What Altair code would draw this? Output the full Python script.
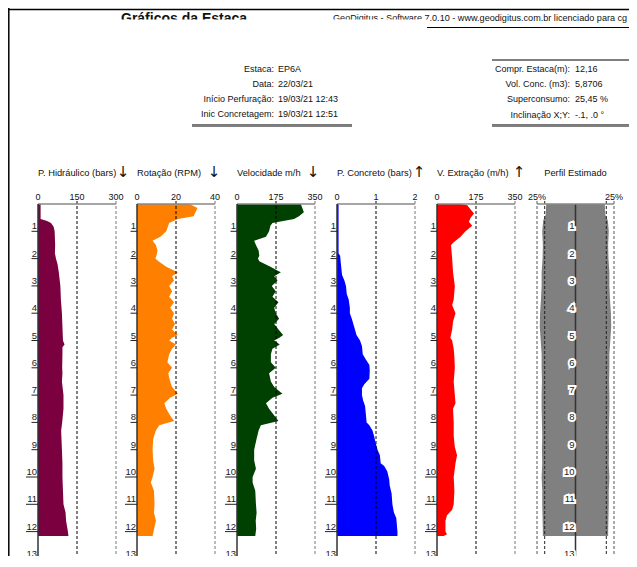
import altair as alt
import pandas as pd

FONT = "Liberation Sans"

# ---------------- data ----------------
depth_ticks = list(range(1, 14))

hid_d = [0, 0.55, 0.62, 0.7, 0.83, 1.0, 1.5, 1.8, 2.0, 2.2, 2.5, 3.0, 3.5, 4.0, 4.5, 5.0, 5.15, 5.25,
         5.5, 6.0, 6.2, 6.5, 7.0, 7.5, 8.0, 8.3, 9.0, 9.5, 10.0, 10.5, 11.0, 11.3, 11.6, 12.0, 12.16]
hid_v = [10, 10, 35, 50, 60, 64, 66, 65, 69, 75, 80, 86, 88, 92, 94, 96, 102, 94,
         94, 93, 94, 92, 98, 98, 93, 89, 92, 94, 94, 96, 98, 106, 108, 115, 117]

rv_d = [0, 0.15, 0.3, 0.45, 0.55, 0.7, 0.8, 1.0, 1.2, 1.35, 1.5, 1.7, 1.9, 2.0, 2.1, 2.3, 2.45, 2.5,
        2.65, 2.8, 3.0, 3.2, 3.4, 3.6, 3.8, 4.0, 4.2, 4.4, 4.6, 4.8, 4.9, 5.0, 5.15, 5.3, 5.5, 5.8,
        6.0, 6.2, 6.5, 6.7, 6.95, 7.1, 7.3, 7.5, 7.75, 7.95, 8.1, 8.3, 8.6, 9.0, 9.4, 9.7, 10.0,
        10.2, 10.5, 11.0, 11.3, 11.6, 11.9, 12.16]
rot_v = [27, 31, 30, 29, 21, 16.5, 16, 15, 12, 8, 9.7, 10.5, 10, 9.4, 11, 15, 19.5, 21,
         18, 19, 16.5, 18, 16.5, 19, 17, 19, 18, 19.5, 18, 21, 18, 16.5, 20, 18, 16.5, 15.6,
         18, 16, 17, 18, 21, 17, 14, 15, 17, 19, 11.4, 9.7, 8.3, 8, 8.3, 9, 8,
         7.1, 8.7, 9, 8.7, 9.7, 8.8, 8]
vel_v = [286, 293, 300, 278, 256, 159, 150, 144, 130, 77, 85, 97, 100, 94, 100, 150, 185, 197,
         167, 182, 156, 174, 159, 186, 167, 174, 189, 167, 186, 207, 190, 167, 192, 159, 152, 152,
         174, 144, 152, 167, 204, 159, 130, 144, 167, 186, 107, 97, 88, 77, 77, 85, 70,
         70, 82, 85, 88, 84, 86, 82]

conc_d = [0, 1.8, 1.9, 2.2, 2.6, 2.8, 3.0, 3.3, 3.5, 3.8, 4.0, 4.2, 4.5, 4.8, 5.0, 5.2, 5.5, 5.7,
          5.9, 6.1, 6.4, 6.6, 6.75, 7.0, 7.2, 7.4, 7.7, 8.0, 8.1, 8.3, 8.5, 8.8, 9.0, 9.2, 9.5,
          9.6, 9.8, 10.1, 10.3, 10.6, 11.0, 11.3, 11.5, 12.0, 12.16]
conc_v = [0.04, 0.04, 0.08, 0.1, 0.13, 0.19, 0.23, 0.25, 0.3, 0.33, 0.33, 0.38, 0.44, 0.5, 0.59,
          0.64, 0.66, 0.74, 0.83, 0.84, 0.83, 0.7, 0.64, 0.64, 0.67, 0.72, 0.74, 0.76, 0.83, 0.91,
          0.95, 1.0, 1.04, 1.1, 1.12, 1.21, 1.29, 1.34, 1.35, 1.4, 1.42, 1.46, 1.52, 1.55, 1.55]

ext_d = [0, 0.05, 0.2, 0.35, 0.5, 0.65, 0.8, 1.0, 1.2, 1.4, 1.5, 2.0, 2.5, 3.0, 3.5, 3.7, 4.0,
         4.3, 4.6, 4.9, 5.0, 5.3, 5.6, 6.0, 6.5, 7.0, 7.3, 7.5, 8.0, 8.5, 8.9, 9.2, 9.5, 10.0,
         10.5, 11.0, 11.2, 11.4, 11.6, 12.0, 12.1, 12.16]
ext_v = [106, 136, 151, 166, 151, 143, 158, 128, 106, 75, 63, 68, 72, 80, 75, 68, 83,
         72, 68, 60, 68, 75, 78, 80, 75, 80, 83, 72, 75, 75, 80, 90, 83, 75,
         78, 75, 68, 45, 38, 38, 45, 30]

pf_d = [0, 0.4, 0.6, 1.0, 1.5, 2.0, 2.5, 3.0, 3.5, 4.0, 4.5, 5.0, 5.5, 6.0, 6.5, 7.0, 7.5, 8.0,
        8.5, 9.0, 9.5, 10.0, 10.5, 11.0, 11.5, 12.0, 12.16]
pf_r = [0.95, 0.97, 1.05, 1.08, 1.06, 1.07, 1.1, 1.1, 1.12, 1.15, 1.16, 1.13, 1.1, 1.1, 1.09, 1.1,
        1.1, 1.09, 1.08, 1.09, 1.08, 1.1, 1.08, 1.08, 1.07, 1.06, 1.06]

panel_titles = ["P. Hidráulico (bars)", "Rotação (RPM)", "Velocidade m/h",
                "P. Concreto (bars)", "V. Extração (m/h)"]
panel_arrows = ["↓", "↓", "↓", "↑", "↑"]
panel_max = [300, 40, 350, 2, 350]
panel_mid = [150, 20, 175, 1, 175]
panel_ticklabels = [["0", "150", "300"], ["0", "20", "40"], ["0", "175", "350"],
                    ["0", "1", "2"], ["0", "175", "350"]]
panel_colors = ["#7a0040", "#ff8000", "#004000", "#0000ff", "#ff0000"]
panel_series = [(hid_d, hid_v), (rv_d, rot_v), (rv_d, vel_v), (conc_d, conc_v), (ext_d, ext_v)]

perfil_title = "Perfil Estimado"
perfil_ticks = [-1.25, 1.25]
perfil_ticklabels = ["25%", "25%"]

page_title = "Gráficos da Estaca"
software_line = "GeoDigitus - Software 7.0.10 - www.geodigitus.com.br licenciado para cg"
left_labels = ["Estaca:", "Data:", "Início Perfuração:", "Inic Concretagem:"]
left_values = ["EP6A", "22/03/21", "19/03/21 12:43", "19/03/21 12:51"]
right_labels = ["Compr. Estaca(m):", "Vol. Conc. (m3):", "Superconsumo:", "Inclinação X;Y:"]
right_values = ["12,16", "5,8706", "25,45 %", "-.1, .0 °"]

# ---------------- layout ----------------
W, H = 621, 548
PANEL_LEFT = [30, 129, 229, 329, 429]
PANEL_W = 78
P6_RANGE = [529, 606]
ARROW_X = [115, 206, 305, 411, 511]
Y_TOP = 196
PX_PER_M = 27.3
Y_RANGE = [Y_TOP, Y_TOP + 13 * PX_PER_M]
Y_BOTTOM = 570
ONE = pd.DataFrame({"a": [0]})
ys = alt.Scale(domain=[0, 13], range=Y_RANGE)


def text(s, x, y, size=9, align="left", baseline="middle", weight="normal", color="#111", font=FONT):
    return alt.Chart(pd.DataFrame({"t": [s]})).mark_text(
        align=align, baseline=baseline, fontSize=size, fontWeight=weight, color=color, font=font
    ).encode(x=alt.value(x), y=alt.value(y), text="t:N")


def hline(x1, x2, y, color="#000", w=1.0, dash=None):
    kw = dict(color=color, strokeWidth=w)
    if dash:
        kw["strokeDash"] = dash
    return alt.Chart(ONE).mark_rule(**kw).encode(x=alt.value(x1), x2=alt.value(x2), y=alt.value(y))


def vline(x, y1, y2, color="#000", w=1.0, dash=None):
    kw = dict(color=color, strokeWidth=w)
    if dash:
        kw["strokeDash"] = dash
    return alt.Chart(ONE).mark_rule(**kw).encode(x=alt.value(x), y=alt.value(y1), y2=alt.value(y2))


layers = []

# ---- page frame and header ----
layers += [
    hline(0, W, 1.5, "#000", 1.5),
    vline(0.8, 0, H, "#000", 1.5),
    text(page_title, 113, 4, size=14, baseline="top", weight="bold"),
    text(software_line, 325, 6, size=9.1, baseline="top"),
    alt.Chart(ONE).mark_rect(color="white").encode(
        x=alt.value(100), x2=alt.value(421), y=alt.value(11.5), y2=alt.value(24)),
    hline(419, 624, 19.5, "#000", 1),
    vline(624, 19.5, 529, "#000", 1.3),
    hline(484, 624, 52, "#000", 1),
    hline(484, 624, 116.5, "#777", 1),
    hline(484, 624, 118, "#000", 1),
    hline(184, 344, 116.5, "#777", 1),
    hline(184, 344, 118, "#000", 1),
]
for i, (lab, val) in enumerate(zip(left_labels, left_values)):
    y = 61 + 15 * i
    layers.append(text(lab, 266, y, align="right"))
    layers.append(text(val, 270, y))
for i, (lab, val) in enumerate(zip(right_labels, right_values)):
    y = 61 + 15.2 * i
    layers.append(text(lab, 562, y, align="right"))
    layers.append(text(val, 567, y))

# ---- panels 1-5 ----
depth_df = pd.DataFrame({"d": depth_ticks, "lab": [str(t) for t in depth_ticks]})
for i in range(5):
    L = PANEL_LEFT[i]
    xs = alt.Scale(domain=[0, panel_max[i]], range=[L, L + PANEL_W])
    d, v = panel_series[i]
    df = pd.DataFrame({"d": d, "v": v})
    layers.append(
        alt.Chart(df).mark_area(orient="horizontal", color=panel_colors[i], opacity=1).encode(
            x=alt.X("v:Q", scale=xs, axis=None), y=alt.Y("d:Q", scale=ys, axis=None))
    )
    # grid lines
    layers.append(
        alt.Chart(pd.DataFrame({"t": [panel_mid[i]]})).mark_rule(
            color="#000", strokeWidth=1, strokeDash=[3, 2]).encode(
            x=alt.X("t:Q", scale=xs, axis=None), y=alt.value(Y_TOP - 3), y2=alt.value(Y_BOTTOM))
    )
    layers.append(
        alt.Chart(pd.DataFrame({"t": [panel_max[i]]})).mark_rule(
            color="#777", strokeWidth=1, strokeDash=[3, 2]).encode(
            x=alt.X("t:Q", scale=xs, axis=None), y=alt.value(Y_TOP - 3), y2=alt.value(Y_BOTTOM))
    )
    # top axis
    layers.append(hline(L, L + PANEL_W, Y_TOP, "#888", 1.3))
    tdf = pd.DataFrame({"t": [0, panel_mid[i], panel_max[i]], "lab": panel_ticklabels[i]})
    layers.append(
        alt.Chart(tdf).mark_text(fontSize=9, font=FONT, color="#111", baseline="middle").encode(
            x=alt.X("t:Q", scale=xs, axis=None), y=alt.value(Y_TOP - 7), text="lab:N")
    )
    # depth axis
    layers.append(vline(L, Y_TOP, Y_BOTTOM, "#333", 1.5))
    layers.append(
        alt.Chart(depth_df).transform_calculate(
            x0=f"{L} - 1 - 5.5 * length(datum.lab)").mark_rule(color="#222", strokeWidth=1).encode(
            x=alt.X("x0:Q", scale=None), x2=alt.value(L), y=alt.Y("d:Q", scale=ys, axis=None))
    )
    layers.append(
        alt.Chart(depth_df).mark_text(fontSize=9.5, font=FONT, color="#222", align="right",
                                      baseline="bottom").encode(
            x=alt.value(L - 1), y=alt.Y("d:Q", scale=ys, axis=None), text="lab:N")
    )
    # titles
    layers.append(text(panel_titles[i], L, 165, size=9.3, color="#111"))
    layers.append(text(panel_arrows[i], ARROW_X[i], 164, size=15, align="center", color="#111",
                       font="DejaVu Sans"))

# ---- panel 6: perfil estimado ----
xs6 = alt.Scale(domain=[-1.25, 1.25], range=P6_RANGE)
pdf = pd.DataFrame({"d": pf_d, "r": pf_r})
layers.append(
    alt.Chart(pdf).transform_calculate(neg="-datum.r").mark_area(
        orient="horizontal", color="#808080", opacity=1).encode(
        x=alt.X("neg:Q", scale=xs6, axis=None), x2="r:Q", y=alt.Y("d:Q", scale=ys, axis=None))
)
for t, col in [(-1.25, "#555"), (-1.0, "#222"), (1.0, "#222"), (1.25, "#555")]:
    layers.append(
        alt.Chart(pd.DataFrame({"t": [t]})).mark_rule(color=col, strokeWidth=1, strokeDash=[3, 2]).encode(
            x=alt.X("t:Q", scale=xs6, axis=None), y=alt.value(Y_TOP - 3), y2=alt.value(Y_BOTTOM))
    )
layers.append(
    alt.Chart(pd.DataFrame({"t": [0]})).mark_rule(color="#333", strokeWidth=1.5).encode(
        x=alt.X("t:Q", scale=xs6, axis=None), y=alt.value(Y_TOP), y2=alt.value(Y_BOTTOM))
)
layers.append(hline(P6_RANGE[0], P6_RANGE[1], Y_TOP, "#888", 1.3))
layers.append(
    alt.Chart(pd.DataFrame({"t": perfil_ticks, "lab": perfil_ticklabels})).mark_text(
        fontSize=9, font=FONT, color="#111", baseline="middle").encode(
        x=alt.X("t:Q", scale=xs6, axis=None), y=alt.value(Y_TOP - 7), text="lab:N")
)
center = (P6_RANGE[0] + P6_RANGE[1]) / 2
layers.append(
    alt.Chart(depth_df).mark_text(fontSize=9.5, font=FONT, color="white", stroke="white",
                                  strokeWidth=4, align="right", baseline="bottom").encode(
        x=alt.value(center - 1), y=alt.Y("d:Q", scale=ys, axis=None), text="lab:N")
)
layers.append(
    alt.Chart(depth_df).mark_text(fontSize=9.5, font=FONT, color="#222", align="right",
                                  baseline="bottom").encode(
        x=alt.value(center - 1), y=alt.Y("d:Q", scale=ys, axis=None), text="lab:N")
)
layers.append(text(perfil_title, center, 165, size=9.3, align="center", color="#111"))

chart = alt.layer(*layers).resolve_scale(x="independent", y="independent").properties(
    width=W, height=H, padding=0, autosize="none", background="white"
).configure_view(stroke=None)

chart.save("out.html", embed_options={"renderer": "svg", "actions": False})
